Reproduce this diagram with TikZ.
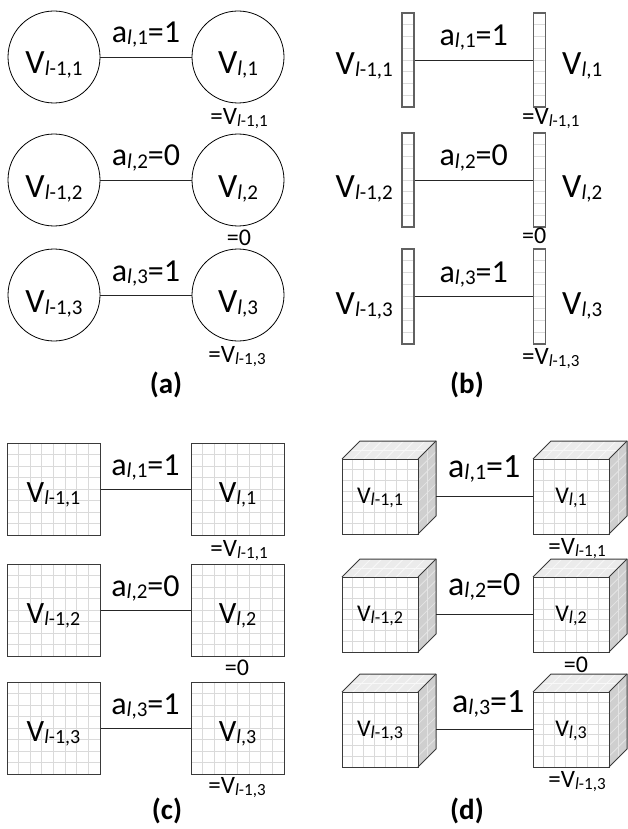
\documentclass[tikz,border=0pt]{standalone}
\usepackage{fontspec}
\setmainfont{Carlito}
\newcommand\Fs[1]{\fontsize{#1}{#1}\selectfont}
\newcommand\myl{\textit{l}}
\newcommand\Sb[2]{\raisebox{-2pt}{\Fs{#1}#2}}
\newcommand\La[2]{{\Fs{32}a}\Sb{21}{\myl,#1}{\Fs{32}=#2}}
\newcommand\Ld[2]{{\Fs{34}a}\Sb{22}{\myl,#1}{\Fs{34}=#2}}
\newcommand\Eq[1]{{\Fs{25}=V}\Sb{17}{\myl-1,#1}}
\definecolor{gridc}{HTML}{DADADA}
\definecolor{edgec}{HTML}{3A3A3A}
\definecolor{topc}{HTML}{EBEBEB}
\definecolor{sidec}{HTML}{CFCFCF}
\definecolor{sidegrid}{HTML}{E4E4E4}
\definecolor{topgrid}{HTML}{F8F8F8}
\tikzset{
  circ/.style={circle,draw=black,line width=0.8pt,minimum size=92pt,inner sep=0pt,text height=34pt,text depth=0pt},
  barbox/.style={rectangle,draw=edgec!80,line width=1.3pt,minimum width=12pt,minimum height=94pt,inner sep=0pt},
  sqbox/.style={rectangle,draw=edgec,line width=1pt,minimum width=93pt,minimum height=92pt,inner sep=0pt,text height=26pt,text depth=0pt},
  cubefront/.style={rectangle,draw=edgec,line width=1pt,minimum width=76pt,minimum height=75pt,inner sep=0pt,text height=14pt,text depth=0pt},
  conn/.style={draw=black!85,line width=0.8pt},
  lab/.style={midway,anchor=base,yshift=14pt,inner sep=0pt},
  labd/.style={midway,anchor=base,yshift=19pt,inner sep=0pt},
  txt/.style={inner sep=0pt},
  gridline/.style={draw=gridc,line width=0.8pt},
  captxt/.style={inner sep=0pt,font=\bfseries\Fs{29}}
}
% grid inside a rectangle: x0,y0,w,h,n
\newcommand\mygrid[5]{%
  \foreach \i in {1,...,#5}{%
    \draw[gridline] ({#1+\i*#3/(#5+1)},{#2}) -- ({#1+\i*#3/(#5+1)},{#2+#4});
    \draw[gridline] ({#1},{#2+\i*#4/(#5+1)}) -- ({#1+#3},{#2+\i*#4/(#5+1)});
  }}
% horizontal hatch in a bar: x0,y0,w,h
\newcommand\myhatch[4]{%
  \foreach \i in {1,...,7}{%
    \draw[gridline] ({#1},{#2+\i*#4/8}) -- ({#1+#3},{#2+\i*#4/8});
  }}
% cube: x0,y0 (front top-left), name, text
\newcommand\mycube[4]{%
  \fill[topc] ({#1},{#2}) -- ++(18,-18) -- ++(76,0) -- ++(-18,18) -- cycle;
  \fill[sidec] ({#1+76},{#2}) -- ++(18,-18) -- ++(0,75) -- ++(-18,18) -- cycle;
  \foreach \i in {1,...,6}{%
    \draw[topgrid,line width=0.8pt] ({#1+\i*76/7},{#2}) -- ++(18,-18);
    \draw[sidegrid,line width=0.8pt] ({#1+76},{#2+\i*75/7}) -- ++(18,-18);
  }
  \draw[topgrid,line width=0.8pt] ({#1+9},{#2-9}) -- ++(76,0);
  \draw[sidegrid,line width=0.8pt] ({#1+85},{#2-9}) -- ++(0,75);
  \foreach \i in {1,...,6}{%
    \draw[gridline] ({#1+\i*76/7},{#2}) -- ({#1+\i*76/7},{#2+75});
    \draw[gridline] ({#1},{#2+\i*75/7}) -- ({#1+76},{#2+\i*75/7});
  }
  \draw[edgec,line width=1pt,line join=round] ({#1},{#2}) -- ++(18,-18) -- ++(76,0) -- ++(0,75) -- ++(-18,18);
  \draw[edgec,line width=1pt] ({#1+76},{#2}) -- ++(18,-18);
  \node[cubefront] (#3) at ({#1+38},{#2+37.5}) {#4};
}
\begin{document}
\begin{tikzpicture}[x=1pt,y=-1pt]
\useasboundingbox (0,0) rectangle (627,829);
% ================= (a) =================
\node[circ] (a1L) at (54,57) {{\Fs{34}V}\Sb{21}{\myl-1,1}};
\node[circ] (a1R) at (238,57) {{\Fs{34}V}\Sb{21}{\myl,1}};
\draw[conn] (a1L) -- node[lab] {\La{1}{1}} (a1R);
\node[txt,anchor=base] (a1e) at (239,125) {\Eq{1}};
\node[circ] (a2L) at (54,180) {{\Fs{34}V}\Sb{21}{\myl-1,2}};
\node[circ] (a2R) at (238,180) {{\Fs{34}V}\Sb{21}{\myl,2}};
\draw[conn] (a2L) -- node[lab] {\La{2}{0}} (a2R);
\node[txt,anchor=base] (a2e) at (239,245) {\Fs{24}=0};
\node[circ] (a3L) at (54,295) {{\Fs{34}V}\Sb{21}{\myl-1,3}};
\node[circ] (a3R) at (238,295) {{\Fs{34}V}\Sb{21}{\myl,3}};
\draw[conn] (a3L) -- node[lab] {\La{3}{1}} (a3R);
\node[txt,anchor=base] (a3e) at (237,362) {\Eq{3}};
\node[captxt] (capa) at (166,385) {(a)};
% ================= (b) =================
\myhatch{402}{13}{12}{94}
\myhatch{534}{13}{11}{94}
\myhatch{402}{133}{12}{94}
\myhatch{534}{133}{11}{94}
\myhatch{402}{249}{12}{95}
\myhatch{534}{249}{11}{95}
\node[barbox] (b1L) at (408,60) {};
\node[barbox] (b1R) at (539.5,60) {};
\draw[conn] (b1L) -- node[lab] {\La{1}{1}} (b1R);
\node[txt,anchor=base east] (b1Lt) at (393,75) {{\Fs{34}V}\Sb{21}{\myl-1,1}};
\node[txt,anchor=base west] (b1Rt) at (562,75) {{\Fs{34}V}\Sb{21}{\myl,1}};
\node[txt,anchor=base west] (b1e) at (522,125) {\Eq{1}};
\node[barbox] (b2L) at (408,180) {};
\node[barbox] (b2R) at (539.5,180) {};
\draw[conn] (b2L) -- node[lab] {\La{2}{0}} (b2R);
\node[txt,anchor=base east] (b2Lt) at (393,197) {{\Fs{34}V}\Sb{21}{\myl-1,2}};
\node[txt,anchor=base west] (b2Rt) at (562,197) {{\Fs{34}V}\Sb{21}{\myl,2}};
\node[txt,anchor=base west] (b2e) at (522,243) {\Fs{24}=0};
\node[barbox,minimum height=95pt] (b3L) at (408,296.5) {};
\node[barbox,minimum height=95pt] (b3R) at (539.5,296.5) {};
\draw[conn] (b3L) -- node[lab] {\La{3}{1}} (b3R);
\node[txt,anchor=base east] (b3Lt) at (393,314) {{\Fs{34}V}\Sb{21}{\myl-1,3}};
\node[txt,anchor=base west] (b3Rt) at (562,314) {{\Fs{34}V}\Sb{21}{\myl,3}};
\node[txt,anchor=base west] (b3e) at (522,364) {\Eq{3}};
\node[captxt] (capb) at (467,385) {(b)};
% ================= (c) =================
\mygrid{7}{443}{93}{92}{7}
\mygrid{191}{443}{93}{92}{7}
\mygrid{7}{564}{93}{92}{7}
\mygrid{191}{564}{93}{92}{7}
\mygrid{7}{682}{93}{92}{7}
\mygrid{191}{682}{93}{92}{7}
\node[sqbox] (c1L) at (53.5,489) {{\Fs{31}V}\Sb{20}{\myl-1,1}};
\node[sqbox] (c1R) at (237.5,489) {{\Fs{31}V}\Sb{20}{\myl,1}};
\draw[conn] (c1L) -- node[lab] {\La{1}{1}} (c1R);
\node[txt,anchor=base] (c1e) at (239,556) {\Eq{1}};
\node[sqbox] (c2L) at (53.5,610) {{\Fs{31}V}\Sb{20}{\myl-1,2}};
\node[sqbox] (c2R) at (237.5,610) {{\Fs{31}V}\Sb{20}{\myl,2}};
\draw[conn] (c2L) -- node[lab] {\La{2}{0}} (c2R);
\node[txt,anchor=base] (c2e) at (237,675) {\Fs{24}=0};
\node[sqbox] (c3L) at (53.5,728) {{\Fs{31}V}\Sb{20}{\myl-1,3}};
\node[sqbox] (c3R) at (237.5,728) {{\Fs{31}V}\Sb{20}{\myl,3}};
\draw[conn] (c3L) -- node[lab] {\La{3}{1}} (c3R);
\node[txt,anchor=base] (c3e) at (237,793) {\Eq{3}};
\node[captxt] (capc) at (167,811) {(c)};
% ================= (d) =================
\mycube{342}{459}{d1L}{{\Fs{24}V}\Sb{18}{\myl-1,1}}
\mycube{533}{459}{d1R}{{\Fs{24}V}\Sb{18}{\myl,1}}
\coordinate (d1Lb) at (436,496.5);
\draw[conn] (d1Lb) -- node[labd] {\Ld{1}{1}} (d1R);
\node[txt,anchor=base] (d1e) at (577,554) {\Eq{1}};
\mycube{342}{577}{d2L}{{\Fs{24}V}\Sb{18}{\myl-1,2}}
\mycube{533}{577}{d2R}{{\Fs{24}V}\Sb{18}{\myl,2}}
\coordinate (d2Lb) at (436,614.5);
\draw[conn] (d2Lb) -- node[labd] {\Ld{2}{0}} (d2R);
\node[txt,anchor=base] (d2e) at (576,672) {\Fs{24}=0};
\mycube{342}{692}{d3L}{{\Fs{24}V}\Sb{18}{\myl-1,3}}
\mycube{533}{692}{d3R}{{\Fs{24}V}\Sb{18}{\myl,3}}
\coordinate (d3Lb) at (436,729.5);
\draw[conn] (d3Lb) -- node[labd,xshift=4pt,yshift=-2pt] {\Ld{3}{1}} (d3R);
\node[txt,anchor=base] (d3e) at (577,787) {\Eq{3}};
\node[captxt] (capd) at (467,811) {(d)};
\end{tikzpicture}
\end{document}
